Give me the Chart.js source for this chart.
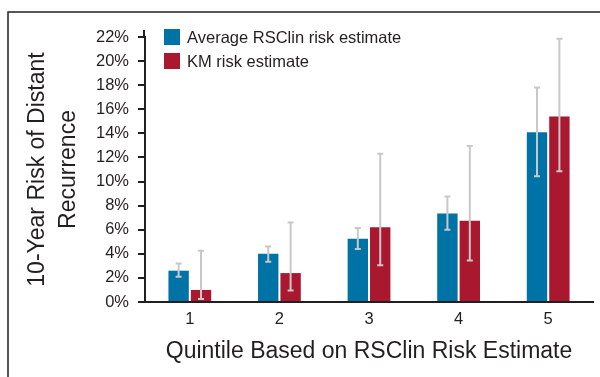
<!DOCTYPE html>
<html>
<head>
<meta charset="utf-8">
<script src="https://cdn.jsdelivr.net/npm/chart.js@4/dist/chart.umd.min.js"></script>
<style>
  html, body { margin: 0; padding: 0; background: #fff; }
  #wrap { position: relative; width: 600px; height: 377px; }
</style>
</head>
<body>
<div id="wrap"><canvas id="riskChart"></canvas></div>
<script>
const quintiles = ["1", "2", "3", "4", "5"];
const seriesLabels = ["Average RSClin risk estimate", "KM risk estimate"];

const rsclinRisk = [2.6, 4.0, 5.25, 7.35, 14.1];
const rsclinLow = [2.1, 3.35, 4.4, 6.0, 10.45];
const rsclinHigh = [3.2, 4.6, 6.15, 8.75, 17.8];

const kmRisk = [1.0, 2.4, 6.2, 6.75, 15.4];
const kmLow = [0.25, 0.95, 3.05, 3.45, 10.85];
const kmHigh = [4.25, 6.6, 12.3, 12.95, 21.85];

const yTicks = [0, 2, 4, 6, 8, 10, 12, 14, 16, 18, 20, 22];

const BLUE = "#0073a6";
const RED = "#aa1830";
const INK = "#231f20";

Chart.defaults.font.family = '"Liberation Sans", Arial, sans-serif';
Chart.defaults.color = INK;

// grey whiskers on each bar
const errorBars = {
  id: "errorBars",
  afterDatasetsDraw(chart) {
    const ctx = chart.ctx;
    const yScale = chart.scales.y;
    const ranges = [[rsclinLow, rsclinHigh], [kmLow, kmHigh]];
    ctx.save();
    ctx.strokeStyle = "#c8c8c8";
    ctx.lineWidth = 2;
    chart.data.datasets.forEach((ds, i) => {
      const meta = chart.getDatasetMeta(i);
      meta.data.forEach((bar, j) => {
        const x = bar.x;
        const top = yScale.getPixelForValue(ranges[i][1][j]);
        const bot = yScale.getPixelForValue(ranges[i][0][j]);
        ctx.beginPath();
        ctx.moveTo(x, top);
        ctx.lineTo(x, bot);
        ctx.moveTo(x - 3, top);
        ctx.lineTo(x + 3, top);
        ctx.moveTo(x - 3, bot);
        ctx.lineTo(x + 3, bot);
        ctx.stroke();
      });
    });
    ctx.restore();
  },
};

// legend stacked in the top-left corner, plus the outer frame
const decor = {
  id: "decor",
  beforeDraw(chart) {
    const ctx = chart.ctx;
    ctx.save();
    ctx.strokeStyle = INK;
    ctx.lineWidth = 1.5;
    ctx.beginPath();
    ctx.moveTo(8, 377);
    ctx.lineTo(8, 12);
    ctx.lineTo(600, 12);
    ctx.stroke();
    ctx.restore();
  },
  afterDraw(chart) {
    const ctx = chart.ctx;
    const area = chart.chartArea;
    ctx.save();
    // y axis line runs a little past the top tick
    ctx.strokeStyle = INK;
    ctx.lineWidth = 2;
    ctx.beginPath();
    ctx.moveTo(area.left - 1, area.top);
    ctx.lineTo(area.left - 1, area.top - 7);
    ctx.stroke();

    ctx.font = '16.5px "Liberation Sans", Arial, sans-serif';
    ctx.textBaseline = "middle";
    chart.data.datasets.forEach((ds, i) => {
      const cy = 37 + i * 24;
      ctx.fillStyle = ds.backgroundColor;
      ctx.fillRect(164, cy - 8, 16, 16);
      ctx.fillStyle = INK;
      ctx.fillText(ds.label, 187, cy + 1);
    });
    ctx.restore();
  },
};

new Chart(document.getElementById("riskChart"), {
  type: "bar",
  data: {
    labels: quintiles,
    datasets: [
      {
        label: seriesLabels[0],
        data: rsclinRisk,
        backgroundColor: BLUE,
        categoryPercentage: 0.5,
        barPercentage: 0.91,
      },
      {
        label: seriesLabels[1],
        data: kmRisk,
        backgroundColor: RED,
        categoryPercentage: 0.5,
        barPercentage: 0.91,
      },
    ],
  },
  options: {
    responsive: true,
    maintainAspectRatio: false,
    animation: false,
    layout: {
      padding: { top: 37, left: 14.5, right: 7, bottom: 11.2 },
    },
    plugins: {
      legend: { display: false },
      tooltip: { enabled: false },
    },
    scales: {
      x: {
        grid: { display: false, drawTicks: false },
        border: { display: true, color: INK, width: 2 },
        ticks: { font: { size: 16.5 }, padding: 7.5, color: INK },
        title: {
          display: true,
          text: "Quintile Based on RSClin Risk Estimate",
          font: { size: 23 },
          color: INK,
          padding: { top: 1.4, bottom: 0 },
        },
      },
      y: {
        min: 0,
        max: 22,
        afterBuildTicks(scale) {
          scale.ticks = yTicks.map((v) => ({ value: v }));
        },
        grid: {
          drawOnChartArea: false,
          drawTicks: true,
          tickLength: 7,
          color: INK,
          lineWidth: 2,
        },
        border: { display: true, color: INK, width: 2 },
        ticks: {
          font: { size: 16.5 },
          padding: 9,
          color: INK,
          callback: (v) => v + "%",
        },
        title: {
          display: true,
          text: ["10-Year Risk of Distant", "Recurrence"],
          font: { size: 23, lineHeight: 31 / 23 },
          color: INK,
          padding: { top: 8, bottom: 2.5 },
        },
      },
    },
  },
  plugins: [errorBars, decor],
});
</script>
</body>
</html>
